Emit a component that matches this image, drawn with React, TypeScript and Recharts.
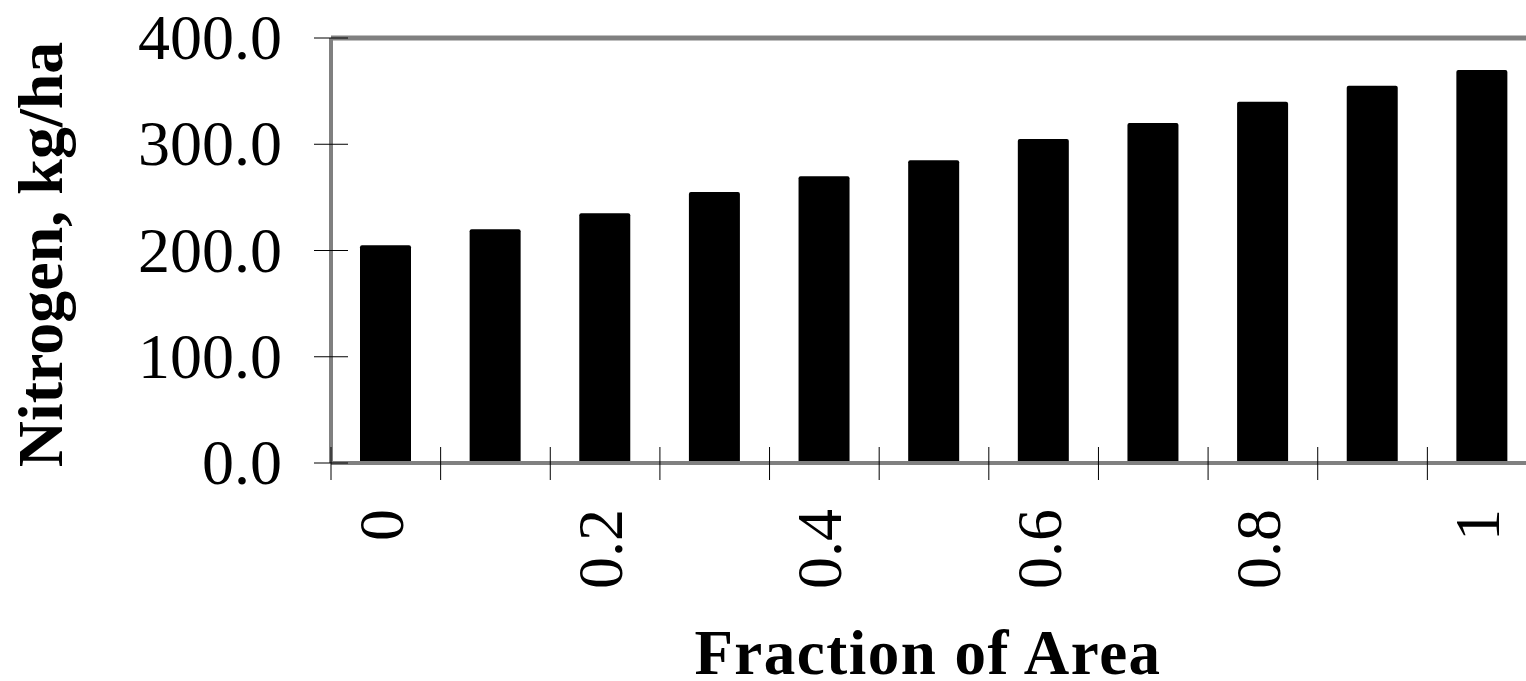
import { BarChart, Bar, XAxis, YAxis, ReferenceLine } from 'recharts';

// values
const categories = ['0', '0.1', '0.2', '0.3', '0.4', '0.5', '0.6', '0.7', '0.8', '0.9', '1'];
const nitrogen = [205, 220, 235, 255, 270, 285, 305, 320, 340, 355, 370];
const labeledCategories = ['0', '0.2', '0.4', '0.6', '0.8', '1'];
const yTicks = [0, 100, 200, 300, 400];

const data = categories.map((fraction, i) => ({ fraction, nitrogen: nitrogen[i] }));

const FONT = '"Liberation Serif", "Times New Roman", serif';
const GRAY = '#808080';

// tick marks sit on the category boundaries and cross the axis
const XTick = (props: any) => {
    const { x, y, payload } = props;
    const half = payload?.offset ?? 54.8;
    const show = labeledCategories.includes(payload.value);
    const ly = y + 46;
    return (
        <g>
            <line x1={x - half} x2={x - half} y1={y - 16} y2={y + 17} stroke="#000" strokeWidth={1} />
            {show && (
                <text
                    x={x}
                    y={ly}
                    dy={17}
                    transform={`rotate(-90 ${x} ${ly})`}
                    textAnchor="end"
                    fontSize={64}
                    fontFamily={FONT}
                    fill="#000"
                >
                    {payload.value}
                </text>
            )}
        </g>
    );
};

const YTick = (props: any) => {
    const { x, y, payload } = props;
    return (
        <g>
            <line x1={x - 17} x2={x + 17} y1={y} y2={y} stroke="#000" strokeWidth={1} />
            <text x={x - 49} y={y} dy={21} textAnchor="end" fontSize={64} fontFamily={FONT} fill="#000">
                {Number(payload.value).toFixed(1)}
            </text>
        </g>
    );
};

const YTitle = (props: any) => {
    const vb = props.viewBox || { x: 0, y: 38, width: 331, height: 425 };
    const cx = vb.x + 62;
    const cy = vb.y + vb.height / 2 + 4;
    return (
        <text
            x={cx}
            y={cy}
            transform={`rotate(-90 ${cx} ${cy})`}
            textAnchor="middle"
            fontSize={64}
            fontWeight="bold"
            fontFamily={FONT}
            fill="#000"
        >
            Nitrogen, kg/ha
        </text>
    );
};

const XTitle = (props: any) => {
    const vb = props.viewBox || { x: 331, y: 463, width: 1206, height: 218 };
    return (
        <text
            x={vb.x + vb.width / 2 - 6}
            y={674}
            textAnchor="middle"
            fontSize={63}
            fontWeight="bold"
            letterSpacing={1.5}
            fontFamily={FONT}
            fill="#000"
        >
            Fraction of Area
        </text>
    );
};

export default function App() {
    return (
        <div style={{ position: 'fixed', left: 0, top: 0, width: 1526, height: 681, overflow: 'hidden', background: '#fff' }}>
            <BarChart width={1540} height={681} data={data} margin={{ top: 38, right: 3, bottom: 0, left: 0 }}>
                <XAxis
                    dataKey="fraction"
                    height={218}
                    interval={0}
                    tickSize={0}
                    tickMargin={0}
                    tickLine={false}
                    tick={<XTick />}
                    axisLine={{ stroke: GRAY, strokeWidth: 4 }}
                    label={XTitle}
                />
                <YAxis
                    width={331}
                    domain={[0, 400]}
                    ticks={yTicks}
                    tickSize={0}
                    tickMargin={0}
                    tickLine={false}
                    tick={<YTick />}
                    axisLine={{ stroke: GRAY, strokeWidth: 4 }}
                    label={YTitle}
                />
                <ReferenceLine y={400} stroke={GRAY} strokeWidth={5} />
                <Bar dataKey="nitrogen" fill="#000" barSize={51} radius={[2, 2, 0, 0]} isAnimationActive={false} />
            </BarChart>
        </div>
    );
}
